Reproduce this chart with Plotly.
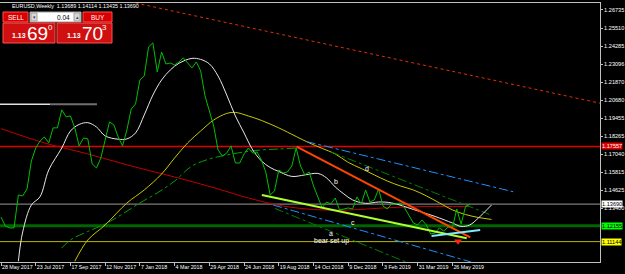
import plotly.graph_objects as go
import pandas as pd

# ---------------- data ----------------
BASE = pd.Timestamp("2017-05-28")

close_vals = [1.1282, 1.1222, 1.1209, 1.1209, 1.1430, 1.1424, 1.1471, 1.1659, 1.1746, 1.1793,
              1.1820, 1.1780, 1.1881, 1.1881, 1.2002, 1.1955, 1.1961, 1.1881, 1.1760, 1.1813,
              1.1807, 1.1639, 1.1612, 1.1679, 1.1800, 1.1921, 1.1901, 1.1820, 1.1760, 1.1867,
              1.2008, 1.2042, 1.2203, 1.2230, 1.2425, 1.2452, 1.2257, 1.2391, 1.2310, 1.2317,
              1.2304, 1.2324, 1.2351, 1.2317, 1.2284, 1.2324, 1.2264, 1.2096, 1.1988, 1.1894,
              1.1733, 1.1692, 1.1712, 1.1760, 1.1645, 1.1645, 1.1706, 1.1746, 1.1712, 1.1719,
              1.1665, 1.1585, 1.1430, 1.1457, 1.1598, 1.1578, 1.1585, 1.1625, 1.1746, 1.1625,
              1.1565, 1.1585, 1.1491, 1.1417, 1.1343, 1.1383, 1.1370, 1.1410, 1.1329, 1.1336,
              1.1343, 1.1336, 1.1417, 1.1370, 1.1464, 1.1383, 1.1397, 1.1471, 1.1356, 1.1336,
              1.1370, 1.1370, 1.1377, 1.1343, 1.1296, 1.1242, 1.1229, 1.1262, 1.1229, 1.1168,
              1.1175, 1.1209, 1.1188, 1.1215, 1.1209, 1.1336, 1.1235, 1.1350, 1.1369]

white_wk = [4, 5, 7, 9, 11, 14, 16, 18, 20, 22, 24, 27, 29, 31, 33, 35, 37, 39, 41, 44, 46, 48, 50,
            52, 54, 56, 58, 60, 62, 64, 67, 70, 73, 75, 77, 79, 81, 84, 87, 90, 95, 100, 104, 106,
            108, 110, 113]
white_vals = [1.0985, 1.1182, 1.1363, 1.1419, 1.1598, 1.1746, 1.1860, 1.1904, 1.1916, 1.1887,
              1.1827, 1.1805, 1.1807, 1.1847, 1.1968, 1.2102, 1.2203, 1.2270, 1.2315, 1.2348,
              1.2341, 1.2311, 1.2230, 1.2102, 1.1961, 1.1847, 1.1733, 1.1659, 1.1615, 1.1588,
              1.1555, 1.1565, 1.1575, 1.1545, 1.1484, 1.1437, 1.1397, 1.1374, 1.1383, 1.1377,
              1.1333, 1.1286, 1.1242, 1.1219, 1.1229, 1.1276, 1.1363]

yellow_wk = [17, 20, 24, 29, 33, 37, 40, 43, 46, 49, 52, 54, 57, 60, 64, 68, 71, 74, 77, 80, 83,
             86, 89, 92, 95, 98, 101, 104, 107, 110, 113]
yellow_vals = [1.0985, 1.1128, 1.1229, 1.1376, 1.1464, 1.1571, 1.1679, 1.1780, 1.1860, 1.1934,
               1.1978, 1.1985, 1.1961, 1.1931, 1.1881, 1.1823, 1.1780, 1.1743, 1.1706, 1.1649,
               1.1608, 1.1565, 1.1524, 1.1491, 1.1464, 1.1424, 1.1377, 1.1330, 1.1299, 1.1279,
               1.1266]

red_ma_wk = [0, 10, 20, 30, 40, 50, 57, 65, 72, 80, 88, 96, 104, 108]
red_ma_vals = [1.1876, 1.1780, 1.1706, 1.1625, 1.1551, 1.1471, 1.1410, 1.1356, 1.1333, 1.1329,
               1.1343, 1.1352, 1.1353, 1.1353]

green_ma_wk = [14, 16, 20, 24, 28, 32, 36, 40, 44, 48, 52, 56, 60, 64, 68]
green_ma_vals = [1.1074, 1.1128, 1.1185, 1.1235, 1.1303, 1.1377, 1.1444, 1.1524, 1.1625, 1.1672,
                 1.1699, 1.1719, 1.1733, 1.1739, 1.1746]

# drawn objects (week index, price)
orange_tl_wk = [68.1, 108.1]
orange_tl_vals = [1.1755, 1.1146]
lime_tl_wk = [60.1, 107.3]
lime_tl_vals = [1.1430, 1.1139]
cyan_short_wk = [99.2, 110.4]
cyan_short_vals = [1.1155, 1.1195]
cyan_up_wk = [70.4, 118.0]
cyan_up_vals = [1.1789, 1.1452]
green_mid_wk = [76.0, 112.5]
green_mid_vals = [1.1720, 1.1300]
cyan_low_wk = [62.7, 108.3]
cyan_low_vals = [1.1363, 1.0980]
green_low_wk = [63.1, 93.3]
green_low_vals = [1.1340, 1.0980]
red_dot_wk = [31.0, 138.0]
red_dot_vals = [1.2720, 1.2047]
arrow_wk = [105.3]
arrow_vals = [1.1120]

white_seg_wk = [-0.23, 11.3]
gray_seg_wk = [11.3, 22.1]
seg_level = 1.2040

level_red = 1.1756
level_cur = 1.1369
level_green = 1.1223
level_yellow = 1.1117
label_red = "1.17557"
label_cur = "1.13690"
label_green = "1.12155"
label_yellow = "1.11144"

ytick_vals = [1.26735, 1.25510, 1.24285, 1.23096, 1.21870, 1.20680, 1.19455, 1.18265,
              1.17040, 1.15815, 1.14625, 1.13400, 1.09796]
xtick_wk = [0, 8, 16, 24, 32, 40, 48, 56, 64, 72, 80, 88, 96, 104]
xtick_text = ["28 May 2017", "23 Jul 2017", "17 Sep 2017", "12 Nov 2017", "7 Jan 2018",
              "4 Mar 2018", "29 Apr 2018", "24 Jun 2018", "19 Aug 2018", "14 Oct 2018",
              "9 Dec 2018", "3 Feb 2019", "31 Mar 2019", "26 May 2019"]

wave_labels = ["d", "b", "c", "a", "bear set up"]
wave_wk = [84.3, 77.2, 81.2, 76.0, 76.2]
wave_vals = [1.1607, 1.1523, 1.1246, 1.1172, 1.1121]


def wk(ws):
    return [BASE + pd.Timedelta(days=7 * w) for w in ws]


X0, X1 = -0.23, 138.0
YMIN, YMAX = 1.0980, 1.2720
W, H = 625, 274
ML, MR, MT, MB = 0, 25, 3, 12
PW, PH = W - ML - MR, H - MT - MB


def px(x):
    return x / PW


def py(y):
    return (PH + MT - y) / PH


FONT = "Liberation Sans"

fig = go.Figure()

def line(xw, yv, color, width=1, dash="solid", shape="linear"):
    fig.add_trace(go.Scatter(x=wk(xw), y=yv, mode="lines",
                             line=dict(color=color, width=width, dash=dash, shape=shape),
                             hoverinfo="skip", showlegend=False))

# horizontal levels
for lvl, col, wdt in [(level_red, "#e00000", 1.5), (level_cur, "#9a9a9a", 1),
                      (level_green, "#006400", 3), (level_yellow, "#b8b800", 1)]:
    fig.add_shape(type="line", xref="paper", x0=0, x1=1, yref="y", y0=lvl, y1=lvl,
                  line=dict(color=col, width=wdt), layer="below")

line(white_seg_wk, [seg_level, seg_level], "#e0e0e0", 1.5)
line(gray_seg_wk, [seg_level, seg_level], "#707070", 2)

line(red_dot_wk, red_dot_vals, "#e03000", 1, "dot")
line(red_ma_wk, red_ma_vals, "#c00000", 1, shape="spline")
line(green_ma_wk, green_ma_vals, "#00a000", 1, "dashdot", shape="spline")
line(yellow_wk, yellow_vals, "#c8c800", 1, shape="spline")
line(cyan_up_wk, cyan_up_vals, "#1e90ff", 1, "dashdot")
line(green_mid_wk, green_mid_vals, "#008000", 1, "dashdot")
line(cyan_low_wk, cyan_low_vals, "#1e90ff", 1, "dashdot")
line(green_low_wk, green_low_vals, "#008000", 1, "dashdot")
line(white_wk, white_vals, "#e8e8e8", 1, shape="spline")
line(list(range(len(close_vals))), close_vals, "#00c000", 1)
line(orange_tl_wk, orange_tl_vals, "#ff4500", 2)
line(lime_tl_wk, lime_tl_vals, "#adff2f", 2)
line(cyan_short_wk, cyan_short_vals, "#80e8ff", 2)

fig.add_trace(go.Scatter(x=wk(arrow_wk), y=arrow_vals, mode="markers",
                         marker=dict(symbol="triangle-down", size=7, color="#ff2020"),
                         hoverinfo="skip", showlegend=False))

for t, xw, yv in zip(wave_labels, wave_wk, wave_vals):
    fig.add_annotation(x=wk([xw])[0], y=yv, text=t, showarrow=False,
                       font=dict(family=FONT, size=7, color="#ffffff"))

# price labels on right axis
for lvl, txt_, bg, fc in [(level_red, label_red, "#e00000", "#ffffff"),
                          (level_cur, label_cur, "#ffffff", "#000000"),
                          (level_green, label_green, "#00ff00", "#000000"),
                          (level_yellow, label_yellow, "#ffff00", "#000000")]:
    fig.add_annotation(xref="paper", x=1, xanchor="left", xshift=1, y=lvl, yref="y",
                       text=txt_, showarrow=False, bgcolor=bg, borderpad=0,
                       font=dict(family=FONT, size=5.6, color=fc))

# title
fig.add_annotation(xref="paper", yref="paper", x=px(10), y=py(6), xanchor="left",
                   yanchor="middle", showarrow=False,
                   text="EURUSD,Weekly  1.13689 1.14114 1.13435 1.13690",
                   font=dict(family=FONT, size=5.4, color="#ffffff"))

# one-click trading panel
def rect(x0, y0, x1, y1, fill, border=None):
    fig.add_shape(type="rect", xref="paper", yref="paper", x0=px(x0), x1=px(x1),
                  y0=py(y1), y1=py(y0), fillcolor=fill,
                  line=dict(color=border or fill, width=1), layer="above")


def txt(x, y, s, size, color="#ffffff", anchor="center", bold=False):
    fig.add_annotation(xref="paper", yref="paper", x=px(x), y=py(y), text=s,
                       xanchor=anchor, yanchor="middle", showarrow=False,
                       font=dict(family=FONT, size=size, color=color,
                                 weight="bold" if bold else "normal"))

rect(3, 12, 28, 22, "#d80000", "#ff5050")
rect(30, 12, 81, 22, "#ffffff", "#a0a0a0")
rect(31, 13, 37, 21, "#d8d8d8", "#a0a0a0")
rect(74, 13, 80, 21, "#d8d8d8", "#a0a0a0")
rect(83, 12, 112, 22, "#d80000", "#ff5050")
rect(3, 23, 55, 43, "#d01010", "#ff5050")
rect(57, 23, 112, 43, "#d01010", "#ff5050")
txt(15.5, 17, "SELL", 6.5)
txt(97.5, 17, "BUY", 6.5)
txt(72, 17, "0.04", 6.5, "#000000", "right")
txt(34, 17, "▾", 5, "#404040")
txt(77, 17, "▴", 5, "#404040")
txt(10, 35.5, "1.13", 7, anchor="left", bold=True)
txt(25, 33, "69", 19, anchor="left")
txt(45.5, 27.5, "0", 8, anchor="left")
txt(65, 35.5, "1.13", 7, anchor="left", bold=True)
txt(79.5, 33, "70", 19, anchor="left")
txt(99.5, 27.5, "3", 8, anchor="left")

fig.update_layout(
    width=W, height=H, margin=dict(l=ML, r=MR, t=MT, b=MB, autoexpand=False),
    paper_bgcolor="#000000", plot_bgcolor="#000000",
    xaxis=dict(type="date", range=wk([X0, X1]), showgrid=False, zeroline=False,
               tickvals=wk(xtick_wk), ticktext=xtick_text, ticks="outside", ticklen=3,
               tickangle=0, automargin=False,
               tickcolor="#c0c0c0", ticklabelposition="outside right",
               tickfont=dict(family=FONT, size=5.3, color="#ffffff"),
               showline=True, linecolor="#c0c0c0", linewidth=1, mirror=True),
    yaxis=dict(range=[YMIN, YMAX], side="right", showgrid=False, zeroline=False,
               automargin=False, ticklabelstandoff=0,
               tickvals=ytick_vals, ticktext=[f"{v:.5f}" for v in ytick_vals],
               ticks="outside", ticklen=2, tickcolor="#c0c0c0",
               tickfont=dict(family=FONT, size=5.6, color="#ffffff"),
               showline=True, linecolor="#c0c0c0", linewidth=1, mirror=True),
)

fig.write_html("out.html")
